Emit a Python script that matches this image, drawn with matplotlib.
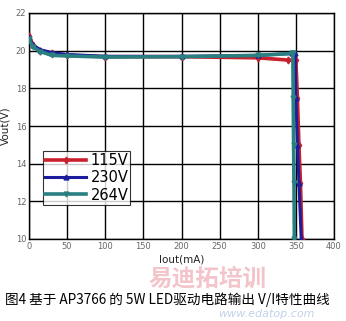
import matplotlib
matplotlib.use("Agg")
import matplotlib.pyplot as plt

plt.rcParams['font.family'] = ['DejaVu Sans', 'Noto Sans CJK SC']

x_115 = [0, 5, 15, 30, 50, 100, 200, 300, 340, 350, 352, 354, 356, 358]
y_115 = [20.8, 20.3, 20.0, 19.85, 19.75, 19.68, 19.68, 19.62, 19.5, 19.5, 17.5, 15.0, 13.0, 10.0]
x_230 = [0, 5, 15, 30, 50, 100, 200, 300, 345, 349, 350, 352, 354, 357]
y_230 = [20.7, 20.3, 20.05, 19.9, 19.8, 19.7, 19.7, 19.75, 19.85, 19.85, 17.5, 15.0, 13.0, 10.0]
x_264 = [0, 5, 15, 30, 50, 100, 200, 300, 345, 346, 346.5, 347, 347.5, 348]
y_264 = [20.6, 20.2, 19.95, 19.75, 19.72, 19.66, 19.68, 19.75, 19.85, 19.85, 17.5, 15.0, 13.0, 10.0]
labels = ['115V', '230V', '264V']
x_ticks = [0, 50, 100, 150, 200, 250, 300, 350, 400]
y_ticks = [10, 12, 14, 16, 18, 20, 22]
caption = '图4 基于 AP3766 的 5W LED驱动电路输出 V/I特性曲线'

fig = plt.figure(figsize=(3.46, 3.21), dpi=100)
ax = fig.add_axes([29/346, 1-239/321, 305/346, 226/321])

ax.plot(x_115, y_115, color='#c8202c', lw=2.6, marker='d', ms=3.5, label=labels[0], zorder=3)
ax.plot(x_230, y_230, color='#1c1c9c', lw=2.2, marker='^', ms=3.5, label=labels[1], zorder=4)
ax.plot(x_264, y_264, color='#2a8080', lw=2.6, marker='v', ms=3.5, label=labels[2], zorder=5)

ax.set_xlim(0, 400)
ax.set_ylim(10, 22)
ax.set_xticks(x_ticks)
ax.set_yticks(y_ticks)
ax.grid(True, color='black', lw=1.0)
ax.set_axisbelow(True)
for s in ax.spines.values():
    s.set_color('black')
    s.set_linewidth(1.0)
ax.tick_params(length=0, labelsize=6, colors='#666666', pad=2)
ax.set_xlabel('Iout(mA)', fontsize=7.5, color='#222222', labelpad=3)
ax.set_ylabel('Vout(V)', fontsize=7.5, color='#222222', labelpad=4)

leg = ax.legend(loc='upper left', bbox_to_anchor=(14/305, 1-(151-13)/226), fontsize=10.5,
                frameon=True, fancybox=False, edgecolor='black', handlelength=2.8,
                borderpad=0.15, labelspacing=0.15, handletextpad=0.3, borderaxespad=0)
leg.get_frame().set_linewidth(0.8)

fig.text(0.60, 1-279/321, '易迪拓培训', fontsize=17, color='#e88a96', alpha=0.5,
         ha='center', va='center', family=['Noto Sans CJK SC'], fontweight='bold')
fig.text(0.77, 1-314/321, 'www.edatop.com', fontsize=8, color='#9ab4d8', alpha=0.6,
         ha='center', va='center', style='italic')
fig.text(5/346, 1-300/321, caption, fontsize=9.8, color='black', ha='left', va='center',
         family=['Noto Sans CJK SC', 'DejaVu Sans'])

fig.savefig('out.png', dpi=100)
